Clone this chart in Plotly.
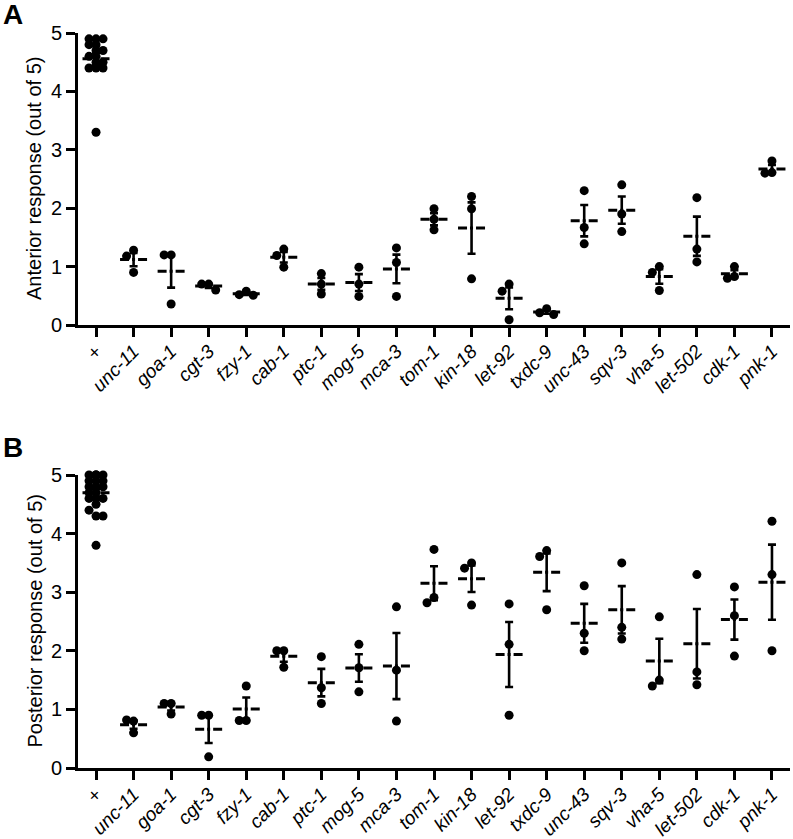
import math
import plotly.graph_objects as go

genes = ["+", "unc-11", "goa-1", "cgt-3", "fzy-1", "cab-1", "ptc-1", "mog-5", "mca-3",
         "tom-1", "kin-18", "let-92", "txdc-9", "unc-43", "sqv-3", "vha-5", "let-502",
         "cdk-1", "pnk-1"]

anterior = [
    [4.9, 4.9, 4.9, 4.8, 4.8, 4.7, 4.7, 4.6, 4.6, 4.5, 4.5, 4.4, 4.4, 4.4, 3.3],
    [1.28, 1.18, 0.90],
    [1.20, 1.20, 0.36],
    [0.70, 0.70, 0.60],
    [0.58, 0.52, 0.51],
    [1.30, 1.19, 0.99],
    [0.88, 0.70, 0.53],
    [0.99, 0.70, 0.49],
    [1.32, 1.07, 0.49],
    [1.99, 1.81, 1.63],
    [2.20, 1.99, 0.79],
    [0.70, 0.58, 0.09],
    [0.28, 0.21, 0.18],
    [2.30, 1.67, 1.39],
    [2.40, 1.90, 1.60],
    [1.00, 0.90, 0.59],
    [2.18, 1.30, 1.08],
    [1.00, 0.83, 0.80],
    [2.81, 2.61, 2.60],
]

posterior = [
    [5.0, 5.0, 5.0, 5.0, 5.0, 4.9, 4.9, 4.9, 4.8, 4.8, 4.8, 4.7, 4.7, 4.6, 4.6, 4.6,
     4.5, 4.4, 4.3, 4.3, 3.8],
    [0.80, 0.82, 0.60],
    [1.10, 1.10, 0.92],
    [0.90, 0.90, 0.19],
    [1.40, 0.81, 0.81],
    [2.00, 2.00, 1.72],
    [1.90, 1.37, 1.10],
    [2.11, 1.71, 1.30],
    [2.75, 1.67, 0.80],
    [3.73, 2.91, 2.82],
    [3.50, 3.41, 2.78],
    [2.80, 2.11, 0.90],
    [3.71, 3.61, 2.70],
    [3.11, 2.30, 2.00],
    [3.50, 2.40, 2.20],
    [2.58, 1.50, 1.40],
    [3.30, 1.64, 1.42],
    [3.09, 2.60, 1.91],
    [4.21, 3.30, 2.00],
]

W, H = 793, 839
ML, MR, MT, MB = 78, 3, 33, 71
plot_w = W - ML - MR
plot_h = H - MT - MB
XR = [-0.48, 18.48]
px_per_x = plot_w / (XR[1] - XR[0])
px_per_y = 292 / 5.0

FONT = "Liberation Sans, Arial, sans-serif"


def swarm(vals):
    step, dmin = 7.0, 8.0
    placed = []
    offs = []
    for v in vals:
        best, best_d = 0.0, -1
        chosen = None
        for k in [0, -1, 1]:
            o = k * step
            d = min([math.hypot(o - po, (v - pv) * px_per_y) for po, pv in placed] or [1e9])
            if d >= dmin:
                chosen = o
                break
            if d > best_d:
                best_d, best = d, o
        if chosen is None:
            chosen = best
        placed.append((chosen, v))
        offs.append(chosen / px_per_x)
    return offs


def stats(vals):
    n = len(vals)
    m = sum(vals) / n
    sd = math.sqrt(sum((v - m) ** 2 for v in vals) / (n - 1))
    return m, sd / math.sqrt(n)


fig = go.Figure()


def add_panel(data, xa, ya):
    xs, ys = [], []
    means, sems = [], []
    for i, vals in enumerate(data):
        offs = swarm(vals)
        xs += [i + o for o in offs]
        ys += vals
        m, s = stats(vals)
        means.append(m)
        sems.append(s)
    fig.add_trace(go.Scatter(x=xs, y=ys, mode="markers", xaxis=xa, yaxis=ya,
                             marker=dict(color="black", size=9, line=dict(width=0)),
                             cliponaxis=False, showlegend=False, hoverinfo="skip"))
    fig.add_trace(go.Scatter(x=list(range(len(data))), y=means, mode="markers",
                             xaxis=xa, yaxis=ya,
                             marker=dict(size=1, color="rgba(0,0,0,0)"),
                             error_y=dict(type="data", array=sems, visible=True,
                                          color="black", thickness=2.6, width=4),
                             cliponaxis=False, showlegend=False, hoverinfo="skip"))
    for i, m in enumerate(means):
        fig.add_trace(go.Scatter(x=[i - 0.36, i + 0.36], y=[m, m], mode="lines",
                                 xaxis=xa, yaxis=ya,
                                 line=dict(color="black", width=3, dash="9px,3px,3px,3px,9px"),
                                 cliponaxis=False, showlegend=False, hoverinfo="skip"))


add_panel(anterior, "x", "y")
add_panel(posterior, "x2", "y2")

ticktext = [g if g == "+" else "<i>%s</i>" % g for g in genes]


def pfrac(p):
    return (H - MB - p) / plot_h


domA = [pfrac(325), 1.0]
domB = [0.0, pfrac(475)]

xcommon = dict(range=XR, tickmode="array", tickvals=list(range(len(genes))), ticktext=ticktext,
               tickangle=-45, showline=True, linecolor="black", linewidth=2.6,
               ticks="outside", ticklen=9, tickwidth=2.6, tickcolor="black",
               showgrid=False, zeroline=False, automargin=False, ticklabelstandoff=-4,
               tickfont=dict(family=FONT, size=19, color="black"))
ycommon = dict(range=[0, 5], dtick=1, tick0=0, showline=True, linecolor="black", linewidth=2.6,
               ticks="outside", ticklen=9, tickwidth=2.6, tickcolor="black",
               showgrid=False, zeroline=False, automargin=False,
               tickfont=dict(family=FONT, size=20, color="black"))

fig.update_layout(
    width=W, height=H,
    margin=dict(l=ML, r=MR, t=MT, b=MB, autoexpand=False),
    plot_bgcolor="white", paper_bgcolor="white",
    xaxis=dict(domain=[0, 1], anchor="y", **xcommon),
    yaxis=dict(domain=domA, anchor="x", **ycommon),
    xaxis2=dict(domain=[0, 1], anchor="y2", **xcommon),
    yaxis2=dict(domain=domB, anchor="x2", **ycommon),
    showlegend=False,
    annotations=[
        dict(text="Anterior response (out of 5)", textangle=-90, xref="paper", yref="paper",
             x=(34 - ML) / plot_w, y=(domA[0] + domA[1]) / 2, xanchor="center", yanchor="middle",
             showarrow=False, font=dict(family=FONT, size=20, color="black")),
        dict(text="Posterior response (out of 5)", textangle=-90, xref="paper", yref="paper",
             x=(34 - ML) / plot_w, y=(domB[0] + domB[1]) / 2, xanchor="center", yanchor="middle",
             showarrow=False, font=dict(family=FONT, size=20, color="black")),
        dict(text="<b>A</b>", xref="paper", yref="paper", x=(1 - ML) / plot_w, y=pfrac(15),
             xanchor="left", yanchor="middle", showarrow=False,
             font=dict(family=FONT, size=28, color="black")),
        dict(text="<b>B</b>", xref="paper", yref="paper", x=(1 - ML) / plot_w, y=pfrac(448),
             xanchor="left", yanchor="middle", showarrow=False,
             font=dict(family=FONT, size=28, color="black")),
    ],
)

fig.write_html("out.html", config={"displayModeBar": False},
               post_script="document.body.style.margin='0px';")
